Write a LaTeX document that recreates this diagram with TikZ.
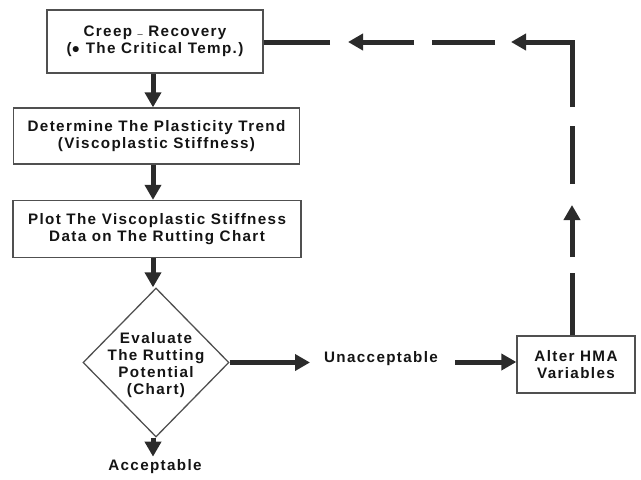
\documentclass[tikz,border=0pt]{standalone}
\usepackage{fontspec}
\setmainfont{Liberation Sans}[LetterSpace=9]
\usetikzlibrary{arrows.meta,shapes.geometric}
\definecolor{linec}{HTML}{2B2B2B}
\definecolor{boxc}{HTML}{505050}
\definecolor{txtc}{HTML}{141414}
\begin{document}
\begin{tikzpicture}[x=1pt,y=-1pt,
  txt/.style={text=txtc, font=\bfseries\fontsize{15.2}{17}\selectfont, align=center, inner sep=0pt},
  box/.style={txt, draw=boxc, line width=1.3pt, fill=white, minimum width=#1},
  arr/.style={draw=linec, line width=5pt, line join=miter, -{Triangle[width=16pt,length=15pt]}},
  seg/.style={draw=linec, line width=5pt},
]
\useasboundingbox (0,0) rectangle (641,480);
\node[box=216pt, minimum height=63pt] (b1) at (155,41.5) {Creep \raisebox{0.2em}{\scalebox{0.6}[1]{\_}} Recovery\\({\fontsize{14}{10}\selectfont ●} The Critical Temp.)};
\node[box=286pt, minimum height=56pt] (b2) at (156.5,136) {Determine The Plasticity Trend\\(Viscoplastic Stiffness)};
\node[box=288pt, minimum height=57pt] (b3) at (157,229) {Plot The Viscoplastic Stiffness\\Data on The Rutting Chart};
\node[diamond, draw=boxc, line width=1.3pt, minimum width=146pt, minimum height=149pt, inner sep=0pt] (d) at (156,362.5) {};
\node[txt] (dt) at (156,365) {Evaluate\\The Rutting\\Potential\\(Chart)};
\node[txt] (acc) at (155,467) {Acceptable};
\node[txt] (una) at (381,359) {Unacceptable};
\node[box=118pt, minimum height=57pt] (b4) at (576,364.5) {Alter HMA\\Variables};
% main flow
\draw[arr] (b1.south -| 153,0) -- (b2.north -| 153,0);
\draw[arr] (b2.south -| 153,0) -- (b3.north -| 153,0);
\draw[arr] (b3.south -| 153,0) -- (d.north -| 153,0);
\draw[arr] (d.south -| 153,0) -- ++(0,19);
\coordinate (r1) at (310,0);
\draw[arr] (d.east) -- (d.east -| r1);
\coordinate (u1) at (455,362);
\draw[arr] (u1) -- (b4.west |- u1);
% feedback loop
\coordinate (v0) at (572,0);
\coordinate (p1) at (572,273);
\coordinate (p2) at (572,257);
\coordinate (p3) at (572,205);
\coordinate (p4) at (572,184);
\coordinate (p5) at (572,126);
\coordinate (p6) at (572,107);
\coordinate (h1) at (511,42);
\coordinate (h2) at (495,42);
\coordinate (h3) at (432,42);
\coordinate (h4) at (414,42);
\coordinate (h5) at (348,42);
\coordinate (h6) at (330,42);
\draw[seg] (b4.north -| v0) -- (p1);
\draw[arr] (p2) -- (p3);
\draw[seg] (p4) -- (p5);
\draw[arr] (p6) |- (h1);
\draw[seg] (h2) -- (h3);
\draw[arr] (h4) -- (h5);
\draw[seg] (h6) -- (b1.east |- h6);
\end{tikzpicture}
\end{document}
